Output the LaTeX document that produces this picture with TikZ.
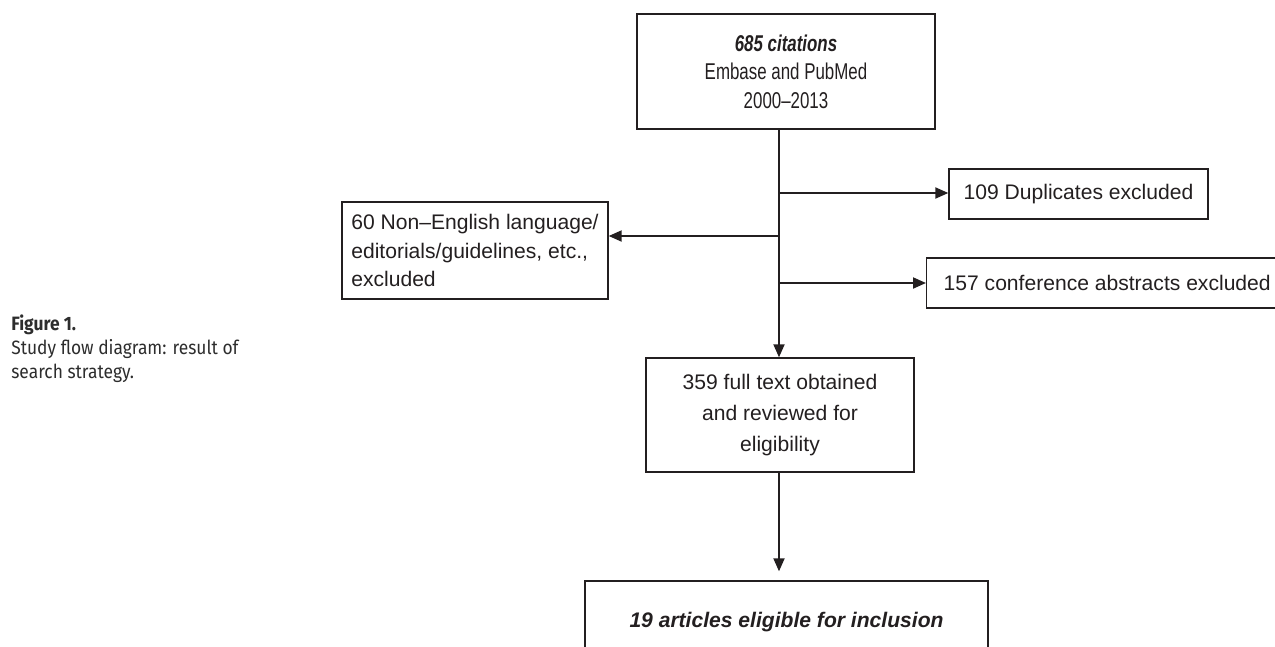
\documentclass[tikz,border=0pt]{standalone}
\usepackage{fontspec}
\setmainfont{Liberation Sans}
\newfontfamily\narrowfont[FakeStretch=0.74, Ligatures=TeX]{Liberation Sans}
\newfontfamily\capfont[FakeStretch=0.9]{Fira Sans}
\usepackage{xcolor}
\definecolor{ink}{RGB}{35, 31, 32}
\definecolor{capgray}{RGB}{45, 45, 45}
\usepackage{tikz}
\usetikzlibrary{arrows.meta, positioning, calc}

\begin{document}
\begin{tikzpicture}[x=0.02cm, y=-0.02cm,
		box/.style={rectangle, draw=ink, line width=0.8pt, text=ink,
			align=center, inner sep=0pt,
			font=\fontsize{12}{16.2}\selectfont},
		caption/.style={align=left, anchor=north west, inner sep=0pt,
			text=capgray, font=\capfont\fontsize{11}{13.9}\selectfont},
		arrow/.style={-{Triangle[length=0.26cm, width=0.22cm]},
			line width=1.1pt, color=ink}
		]
		\useasboundingbox (0, 0) rectangle (1275, 646) ;
		
		% caption on the left
		\node[caption] (figcap) at (11, 314)
		{{\bfseries Figure 1.}\\
			Study flow diagram: result of\\
			search strategy.} ;
		
		% boxes
		\node[box, minimum width=5.96cm, minimum height=2.3cm,
		font=\narrowfont\fontsize{13}{16.2}\selectfont] (search) at (786, 71.5)
		{{\bfseries\itshape 685 citations}\\
			Embase and PubMed\\
			2000–2013} ;
		
		\node[box, minimum width=5.18cm, minimum height=1cm] (dupl) at (1078.5, 194)
		{109 Duplicates excluded} ;
		
		\node[box, align=left, minimum width=5.32cm, minimum height=1.94cm] (nonengl) at (475, 250.5)
		{60 Non–English language/\\
			editorials/guidelines, etc.,\\
			excluded} ;
		
		\node[box, anchor=west, inner xsep=0.34cm, minimum height=1cm] (confabs) at (926, 283)
		{157 conference abstracts excluded} ;
		
		\node[box, minimum width=5.36cm, minimum height=2.28cm,
		font=\fontsize{12}{17.5}\selectfont] (fulltext) at (780, 415)
		{359 full text obtained\\
			and reviewed for\\
			eligibility} ;
		
		\node[box, minimum width=8.06cm, minimum height=1.64cm] (included) at (786.5, 622)
		{\bfseries\itshape 19 articles eligible for inclusion} ;
		
		% split points on the main line
		\coordinate (split1) at (779, 193) ;
		\coordinate (split2) at (779, 236) ;
		\coordinate (split3) at (779, 283) ;
		
		\draw[arrow] (search.south -| split1) -- (split1 |- fulltext.north) ;
		\draw[arrow] (split1) -- (dupl.west |- split1) ;
		\draw[arrow] (split2) -- (split2 -| nonengl.east) ;
		\draw[arrow] (split3) -- (confabs.west) ;
		\draw[arrow, shorten >=0.18cm] (split1 |- fulltext.south) -- (split1 |- included.north) ;
	\end{tikzpicture}
\end{document}
